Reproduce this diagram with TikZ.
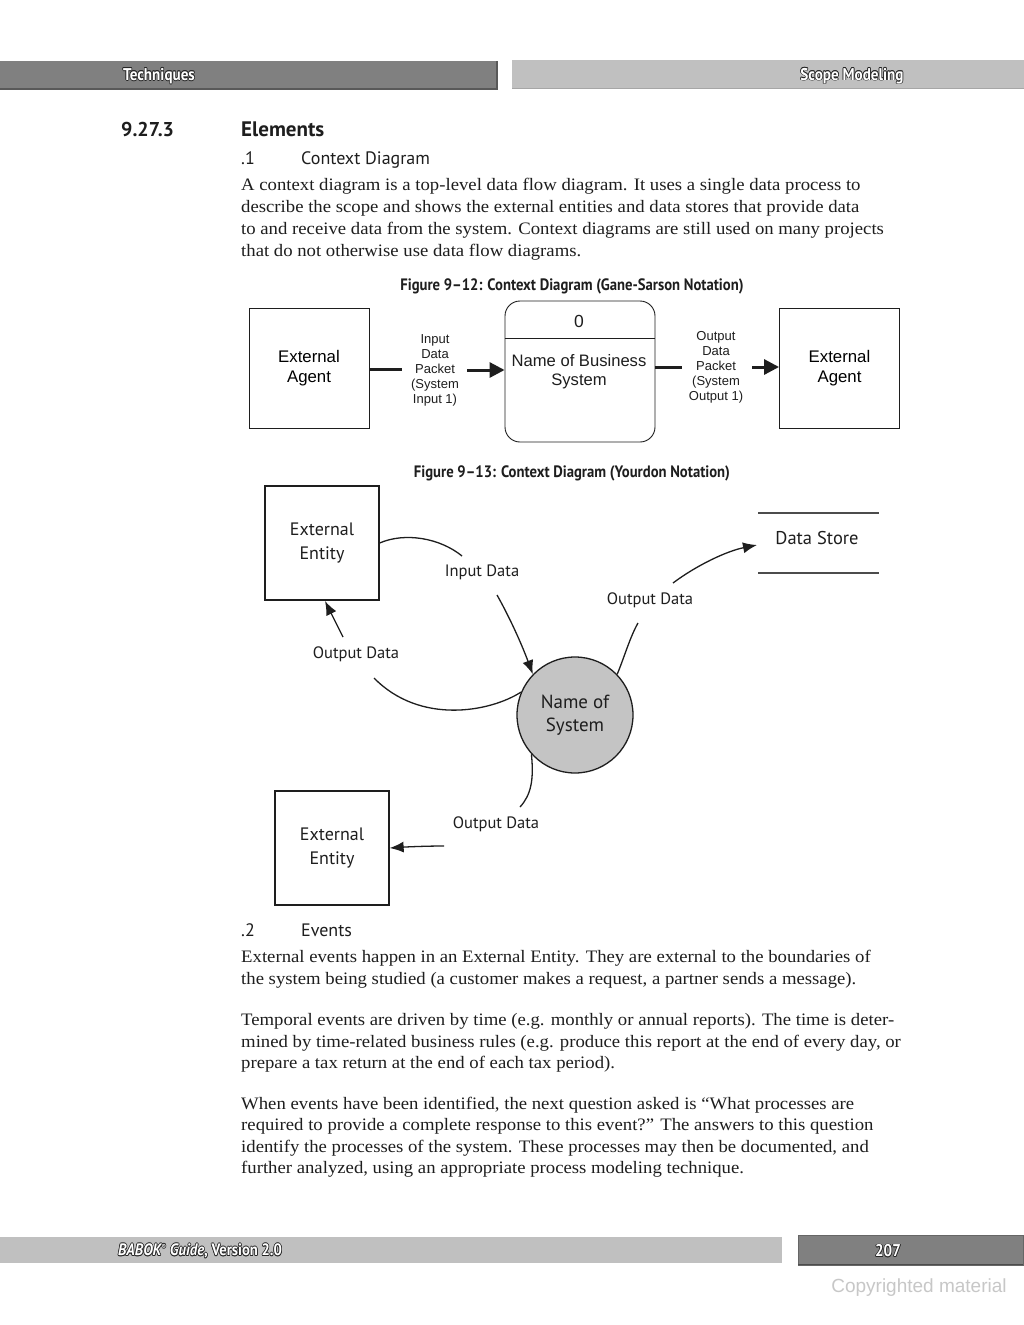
\documentclass[tikz,border=0pt]{standalone}
\usepackage{fontspec}
\setmainfont[FakeStretch=1.07]{Liberation Serif}
\newfontfamily\cond[FakeStretch=0.89]{PT Sans}
\newfontfamily\myr{PT Sans}
\newfontfamily\ari{Liberation Sans}
\usetikzlibrary{arrows.meta}
\definecolor{bardark}{HTML}{808080}
\definecolor{barlight}{HTML}{C0C0C0}
\definecolor{circfill}{HTML}{C4C4C4}
\definecolor{ink}{HTML}{1E1E1E}
\tikzset{
  body/.style={anchor=base west,inner sep=0pt,font=\fontsize{17.5}{22}\selectfont,text=ink},
  head/.style={anchor=base west,inner sep=0pt,text=ink},
  figcap/.style={anchor=base,inner sep=0pt,font=\cond\bfseries\fontsize{16.5}{20}\selectfont,text=ink},
  gsbox/.style={draw=ink,line width=0.9pt,minimum width=120pt,minimum height=120pt,inner sep=0pt,align=center,font=\ari\fontsize{16.8}{19.5}\selectfont},
  gslab/.style={align=center,inner sep=0pt,font=\ari\fontsize{13}{15}\selectfont,text=ink},
  gsflow/.style={line width=3pt,draw=ink},
  gsarrow/.style={line width=3pt,draw=ink,-{Triangle[length=15pt,width=15pt]}},
  ybox/.style={draw=ink,line width=1.3pt,minimum width=114pt,minimum height=114pt,inner sep=0pt,align=center,font=\myr\fontsize{18}{23.5}\selectfont,text=ink},
  ylab/.style={inner sep=0pt,font=\myr\fontsize{16.5}{19}\selectfont,text=ink},
  yflow/.style={line width=1.3pt,draw=ink},
  yarrow/.style={line width=1.3pt,draw=ink,-{Latex[length=14pt,width=11pt]}},
}
\newcommand\outtext[4]{% name, x,y, font, text
  \foreach \dx/\dy in {-0.7/0,0.7/0,0/-0.7,0/0.7,0.5/0.5,-0.5/-0.5,0.5/-0.5,-0.5/0.5}{%
    \node[font=#3,text=black!85,inner sep=0pt] at ([shift={(\dx,\dy)}]#2) {#4};}
  \node[font=#3,text=white,inner sep=0pt] (#1) at (#2) {#4};}
\begin{document}
\begin{tikzpicture}[x=1pt,y=-1pt]
\useasboundingbox[fill=white] (0,0) rectangle (1024,1325);
% header bars
\fill[bardark] (0,61) rectangle (497,90);
\draw[black!65,line width=1.5pt] (0,89.2) -- (497,89.2) -- (497,61);
\fill[barlight] (512,60) rectangle (1024,88);
\draw[black!35,line width=1pt] (512,88) -- (1024,88);
\outtext{hdl}{159,76}{\cond\bfseries\fontsize{17}{19}\selectfont}{Techniques}
\outtext{hdr}{852,76}{\cond\bfseries\fontsize{17}{19}\selectfont}{Scope Modeling}
% section heading
\node[head,font=\myr\bfseries\fontsize{20}{23}\selectfont] (secnum) at (121,136) {9.27.3};
\node[head,font=\myr\bfseries\fontsize{21}{24}\selectfont] (sectit) at (241,136) {Elements};
\node[head,font=\myr\fontsize{18}{22}\selectfont] (sub1n) at (241,164) {.1};
\node[head,font=\myr\fontsize{18}{22}\selectfont] (sub1t) at (301,164) {Context Diagram};
% paragraph 1
\node[body] (p1a) at (241,190) {A context diagram is a top-level data flow diagram. It uses a single data process to};
\node[body] (p1b) at (241,212) {describe the scope and shows the external entities and data stores that provide data};
\node[body] (p1c) at (241,234) {to and receive data from the system. Context diagrams are still used on many projects};
\node[body] (p1d) at (241,256) {that do not otherwise use data flow diagrams.};
% figure 9-12
\node[figcap] (cap1) at (572,290) {Figure 9–12: Context Diagram (Gane-Sarson Notation)};
\node[gsbox] (ea1) at (309,368) {External\\Agent};
\node[gsbox] (ea2) at (839.5,368) {External\\Agent};
\node[draw=ink,line width=0.9pt,rounded corners=15pt,minimum width=150pt,minimum height=141pt,inner sep=0pt] (proc) at (580,371.5) {};
\draw[ink,line width=0.9pt] (proc.west |- 0,338) coordinate (dl) -- (proc.east |- 0,338) coordinate (dr);
\node[font=\ari\fontsize{17.5}{20}\selectfont,text=ink,inner sep=0pt] (pid) at (579,321) {0};
\node[font=\ari\fontsize{16.6}{19.5}\selectfont,text=ink,align=center,inner sep=0pt] (pname) at (579,371.5) {Name of Business\\System};
\node[gslab] (inlab) at (435,370) {Input\\Data\\Packet\\(System\\Input 1)};
\node[gslab] (outlab) at (716,367) {Output\\Data\\Packet\\(System\\Output 1)};
\coordinate (in1) at (402,369);
\coordinate (in2) at (467,370);
\coordinate (out1) at (682,367);
\coordinate (out2) at (752,367);
\draw[gsflow] (ea1.east |- in1) -- (in1);
\draw[gsarrow] (in2) -- (proc.west |- in2);
\draw[gsflow] (proc.east |- out1) -- (out1);
\draw[gsarrow] (out2) -- (ea2.west |- out2);
% figure 9-13
\node[figcap] (cap2) at (572,477) {Figure 9–13: Context Diagram (Yourdon Notation)};
\node[ybox] (ee1) at (322,543) {External\\Entity};
\node[ybox] (ee2) at (332,848) {External\\Entity};
\node[circle,draw=ink,line width=1.3pt,fill=circfill,minimum size=116pt,inner sep=0pt,align=center,font=\myr\fontsize{19}{23.5}\selectfont,text=ink] (sys) at (575,715) {Name of\\System};
\draw[black!70,line width=1.5pt] (758,513) coordinate (ds1) -- (879,513) coordinate (ds2);
\draw[black!70,line width=1.5pt] (758,573) coordinate (ds3) -- (879,573) coordinate (ds4);
\node[font=\myr\fontsize{18.5}{22}\selectfont,text=ink,inner sep=0pt] (ds) at (817,538) {Data Store};
% labels
\node[ylab] (l1) at (482,572) {Input Data};
\node[ylab] (l2) at (356,654) {Output Data};
\node[ylab] (l3) at (650,600) {Output Data};
\node[ylab] (l4) at (496,824) {Output Data};
% input data
\coordinate (a1) at (462,556);
\coordinate (a2) at (497,595);
\draw[yflow] (ee1.east |- 0,543) .. controls (405,532) and (440,538) .. (a1);
\draw[yarrow] (a2) .. controls (510,618) and (522,645) .. (sys.136);
% output to ee1
\coordinate (b1) at (374,678);
\coordinate (b2) at (343,637);
\draw[yflow] (sys.157) .. controls (490,712) and (420,725) .. (b1);
\draw[yarrow] (b2) -- (325,601) coordinate (b3);
% output to data store
\coordinate (c1) at (638,623);
\coordinate (c2) at (673,583);
\draw[yflow] (sys.44) .. controls (624,658) and (630,637) .. (c1);
\draw[yarrow] (c2) .. controls (697,565) and (727,551) .. (757,545) coordinate (c3);
% output to ee2
\coordinate (d1) at (520,807);
\coordinate (d2) at (444,846);
\draw[yflow] (sys.222) .. controls (534,780) and (531,795) .. (d1);
\draw[yarrow] (d2) .. controls (425,846) and (405,847) .. (ee2.east |- 0,848);
% events
\node[head,font=\myr\fontsize{18}{22}\selectfont] (sub2n) at (241,936) {.2};
\node[head,font=\myr\fontsize{18}{22}\selectfont] (sub2t) at (301,936) {Events};
\node[body] (e1a) at (241,962) {External events happen in an External Entity. They are external to the boundaries of};
\node[body] (e1b) at (241,984) {the system being studied (a customer makes a request, a partner sends a message).};
\node[body] (e2a) at (241,1025) {Temporal events are driven by time (e.g. monthly or annual reports). The time is deter-};
\node[body] (e2b) at (241,1047) {mined by time-related business rules (e.g. produce this report at the end of every day, or};
\node[body] (e2c) at (241,1068) {prepare a tax return at the end of each tax period).};
\node[body] (e3a) at (241,1109) {When events have been identified, the next question asked is “What processes are};
\node[body] (e3b) at (241,1130) {required to provide a complete response to this event?” The answers to this question};
\node[body] (e3c) at (241,1152) {identify the processes of the system. These processes may then be documented, and};
\node[body] (e3d) at (241,1173) {further analyzed, using an appropriate process modeling technique.};
% footer
\fill[barlight] (0,1237) rectangle (782,1263);
\fill[bardark] (798,1235) rectangle (1023,1265);
\draw[black!60,line width=1pt] (798,1235) rectangle (1023,1265);
\draw[black!70,line width=1.5pt] (798,1264.5) -- (1023,1264.5);
\outtext{ftl}{200,1251}{\cond\bfseries\itshape\fontsize{16.5}{18}\selectfont}{BABOK\textsuperscript{\fontsize{7}{8}\selectfont®} Guide\upshape, Version 2.0}
\outtext{ftr}{888,1251}{\cond\bfseries\fontsize{17}{19}\selectfont}{207}
\node[font=\ari\fontsize{19}{22}\selectfont,text=black!22,inner sep=0pt] (copy) at (919,1288) {Copyrighted material};
\end{tikzpicture}
\end{document}
